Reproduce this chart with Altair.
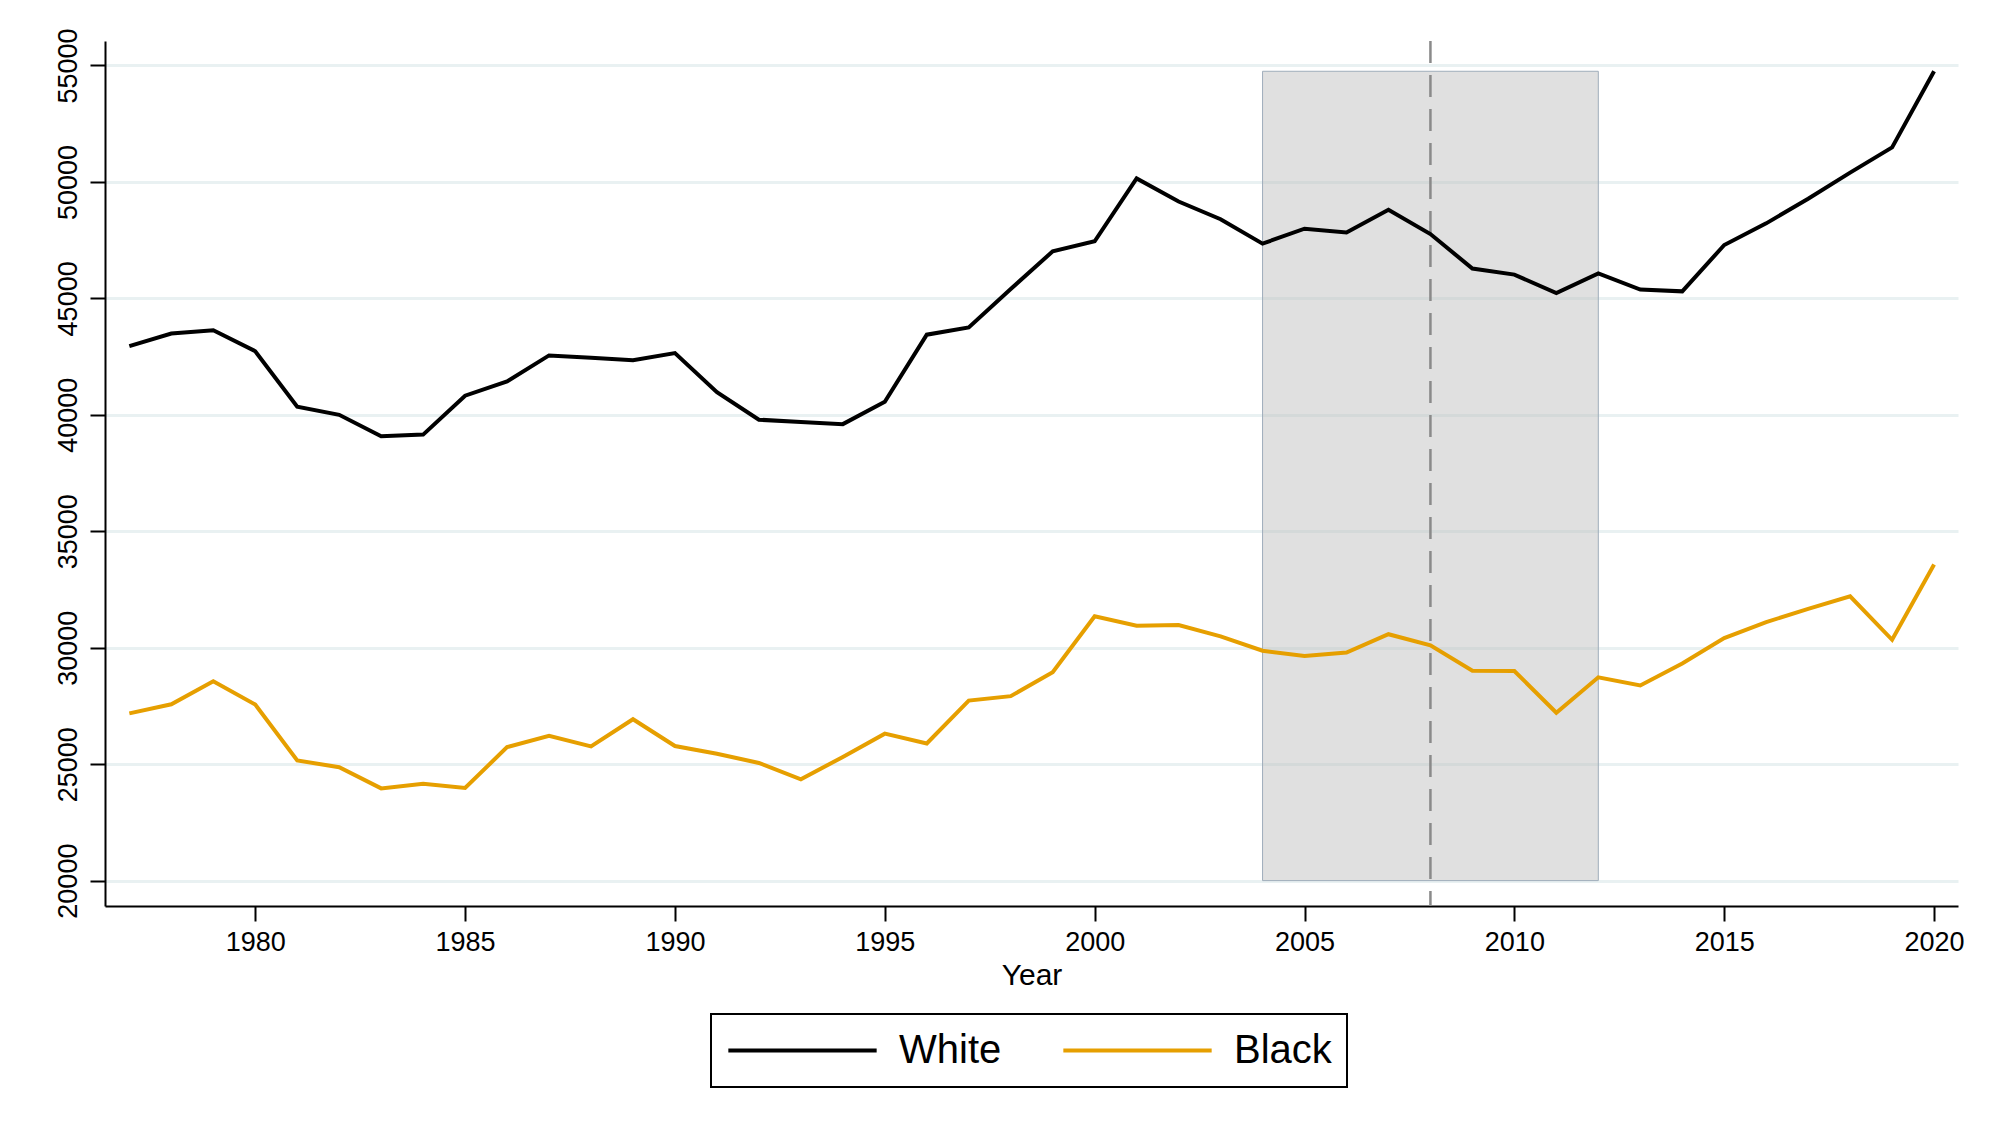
import altair as alt
import pandas as pd

years = list(range(1977, 2021))
white = [42950, 43490, 43630, 42730, 40350, 40000, 39080, 39150, 40820, 41430,
         42550, 42450, 42340, 42650, 40970, 39790, 39690, 39600, 40560, 43440,
         43750, 45400, 47020, 47450, 50150, 49160, 48400, 47350, 47990, 47830,
         48800, 47760, 46280, 46020, 45230, 46070, 45380, 45300, 47290, 48220,
         49280, 50400, 51480, 54750]
black = [27180, 27570, 28560, 27560, 25160, 24870, 23960, 24160, 23980, 25730,
         26220, 25760, 26930, 25780, 25450, 25050, 24350, 25310, 26310, 25890,
         27730, 27920, 28950, 31350, 30940, 30970, 30490, 29870, 29640, 29790,
         30580, 30100, 29010, 29000, 27210, 28730, 28380, 29320, 30410, 31100,
         31670, 32210, 30340, 33570]
series = ["White", "Black"]
colors = ["#000000", "#e69f00"]
shade_start, shade_end = 2004, 2012
shade_bottom = 20000
event_year = 2008
x_ticks = [1980, 1985, 1990, 1995, 2000, 2005, 2010, 2015, 2020]
y_ticks = [20000, 25000, 30000, 35000, 40000, 45000, 50000, 55000]

FONT = "Liberation Sans"

long = pd.DataFrame({
    "Year": years * 2,
    "value": white + black,
    "group": ["White"] * len(years) + ["Black"] * len(years),
})
shade_df = pd.DataFrame({"x": [shade_start], "x2": [shade_end],
                         "y": [shade_bottom], "y2": [max(white)]})
event_df = pd.DataFrame({"x": [event_year]})

xscale = alt.Scale(domain=[1976.42, 2020.57], nice=False, zero=False)
yscale = alt.Scale(domain=[18910, 56050], nice=False, zero=False)

xaxis = alt.Axis(values=x_ticks, format="d", title="Year", grid=False,
                 labelFontSize=27, titleFontSize=30, titleFontWeight="normal",
                 tickSize=15, tickWidth=2, domainWidth=2, domainColor="black",
                 tickColor="black", labelColor="black", titleColor="black",
                 labelPadding=8, titlePadding=5, labelFont=FONT, titleFont=FONT)
yaxis = alt.Axis(values=y_ticks, format="d", title=None, grid=True,
                 gridColor="#e9f1f2", gridWidth=3, labelAngle=270,
                 labelFontSize=27, tickSize=15, tickWidth=2, domainWidth=2,
                 domainColor="black", tickColor="black", labelColor="black",
                 labelPadding=8, labelFont=FONT)

shade = alt.Chart(shade_df).mark_rect(
    fill="#bebebe", fillOpacity=0.47, stroke="#9fadbb", strokeWidth=1
).encode(
    x=alt.X("x:Q", scale=xscale, axis=xaxis),
    x2="x2:Q",
    y=alt.Y("y:Q", scale=yscale, axis=yaxis),
    y2="y2:Q",
)

event = alt.Chart(event_df).mark_rule(
    color="#8a8a8a", strokeWidth=2.5, strokeDash=[22, 12]
).encode(x=alt.X("x:Q", scale=xscale))

lines = alt.Chart(long).mark_line(strokeWidth=4).encode(
    x=alt.X("Year:Q", scale=xscale),
    y=alt.Y("value:Q", scale=yscale),
    color=alt.Color("group:N",
                    scale=alt.Scale(domain=series, range=colors),
                    sort=series,
                    legend=alt.Legend(
                        title=None, orient="none", direction="horizontal",
                        legendX=606, legendY=973,
                        symbolType="stroke", symbolSize=22000,
                        symbolStrokeWidth=4, clipHeight=43,
                        labelFontSize=40, labelFont=FONT, labelColor="black",
                        labelOffset=20, columnPadding=59, padding=15,
                        strokeColor="black")),
)

chart = alt.layer(shade, event, lines).properties(
    width=1853, height=865,
    autosize=alt.AutoSizeParams(type="none"),
    padding={"left": 97, "top": 33, "right": 30, "bottom": 200},
).configure(
    font=FONT, background="white"
).configure_view(
    stroke=None
).configure_legend(
    strokeWidth=2
)

chart.save("out.html", embed_options={"renderer": "svg", "actions": False})
